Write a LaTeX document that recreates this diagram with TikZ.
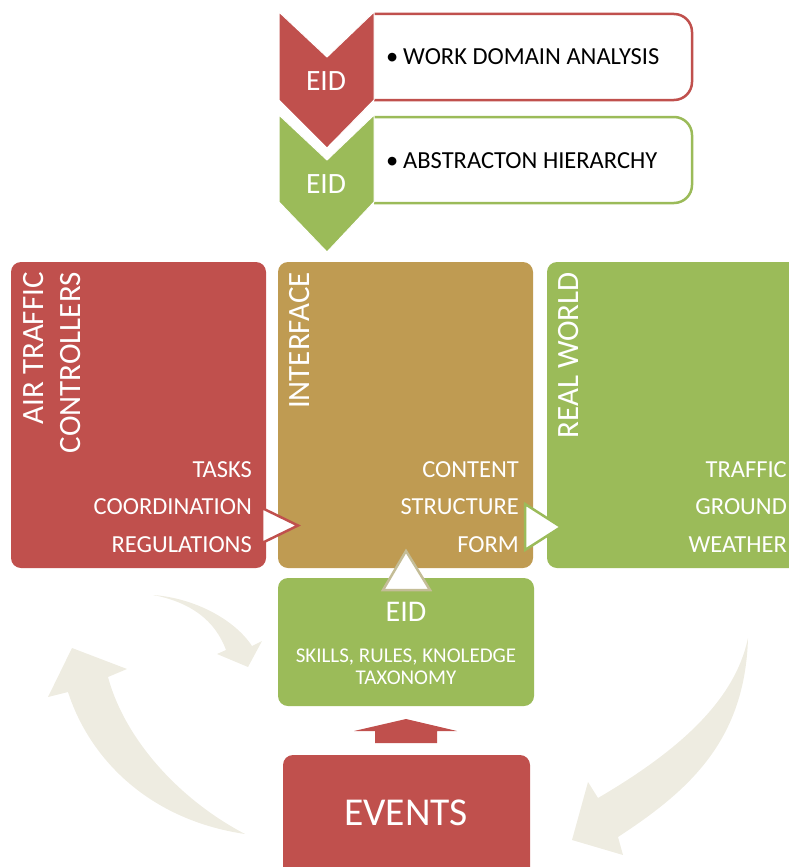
\documentclass[tikz,border=0pt]{standalone}
\usepackage{fontspec}
\setmainfont{Carlito}
\definecolor{cred}{RGB}{192,80,77}
\definecolor{cgreen}{RGB}{155,187,89}
\definecolor{ctan}{RGB}{191,155,82}
\definecolor{clight}{RGB}{238,236,225}
\definecolor{cgrey}{RGB}{196,189,151}
\tikzset{
 mainbox/.style={rectangle, rounded corners=10pt, inner sep=0pt, draw=none},
 outbox/.style={rounded corners=18pt, fill=white, line width=2.5pt},
 itemtxt/.style={anchor=base east, inner sep=0pt, text=white, font=\fontsize{24.5}{28}\selectfont},
 titletxt/.style={anchor=north east, rotate=90, inner sep=0pt, text=white, align=right, font=\fontsize{31}{37}\selectfont},
 toptxt/.style={anchor=base west, inner sep=0pt, text=black, font=\fontsize{24.5}{28}\selectfont},
 chevtxt/.style={anchor=base, inner sep=0pt, text=white, font=\fontsize{29.5}{30}\selectfont},
 eidtxt/.style={anchor=base, inner sep=0pt, text=white, font=\fontsize{21}{24}\selectfont},
 ptr/.style={fill=white, line width=2.5pt, line join=miter},
 swoosh/.style={fill=clight, draw=none},
}
\begin{document}
\begin{tikzpicture}[x=1pt,y=-1pt]
\useasboundingbox (0,0) rectangle (789,867);
% curved arrows
\fill[swoosh] (153,595) .. controls (195,598) and (235,620) .. (252,646) -- (262,641) -- (248,667) -- (217,654) -- (226,650) .. controls (215,620) and (190,602) .. (153,595) -- cycle;
\fill[swoosh] (245,834) .. controls (150,820) and (90,760) .. (68,692) -- (48,697) -- (72,648) -- (127,669) -- (108,677) .. controls (125,740) and (180,800) .. (245,834) -- cycle;
\fill[swoosh] (748,638) .. controls (745,740) and (690,790) .. (618,837) -- (623,855) -- (572,840) -- (588,782) -- (598,798) .. controls (680,750) and (735,700) .. (748,638) -- cycle;
% top outlined boxes
\filldraw[outbox, draw=cred] (374,14) -- (692,14) -- (692,100) -- (374,100);
\filldraw[outbox, draw=cgreen] (374,117) -- (692,117) -- (692,203) -- (374,203);
% chevrons
\filldraw[fill=cgreen, draw=white, line width=1pt] (279,115) -- (327,160) -- (374,115) -- (374,202) -- (327,252) -- (279,202) -- cycle;
\filldraw[fill=cred, draw=white, line width=1pt] (279,12) -- (327,57) -- (374,12) -- (374,100) -- (327,148) -- (279,100) -- cycle;
\node[chevtxt] (eid1) at (326,90) {EID};
\node[chevtxt] (eid2) at (326,193) {EID};
\node[toptxt] (t1) at (386,64) {\makebox[17pt][l]{•}WORK DOMAIN ANALYSIS};
\node[toptxt] (t2) at (386,168) {\makebox[17pt][l]{•}ABSTRACTON HIERARCHY};
% main boxes
\node[mainbox, fill=cred, minimum width=255pt, minimum height=306pt] (atc) at (138.5,415) {};
\node[mainbox, fill=ctan, minimum width=255pt, minimum height=306pt] (ifc) at (405.5,415) {};
\node[mainbox, fill=cgreen, minimum width=263pt, minimum height=306pt] (rw) at (678.5,415) {};
\node[titletxt] (atct) at (23,272) {AIR TRAFFIC\\CONTROLLERS};
\node[titletxt] (ifct) at (289,272) {INTERFACE};
\node[titletxt] (rwt) at (558,272) {REAL WORLD};
\node[itemtxt] (a1) at (252,477) {TASKS};
\node[itemtxt] (a2) at (252,514) {COORDINATION};
\node[itemtxt] (a3) at (252,552) {REGULATIONS};
\node[itemtxt] (i1) at (519,477) {CONTENT};
\node[itemtxt] (i2) at (519,514) {STRUCTURE};
\node[itemtxt] (i3) at (519,552) {FORM};
\node[itemtxt] (r1) at (787,477) {TRAFFIC};
\node[itemtxt] (r2) at (787,514) {GROUND};
\node[itemtxt] (r3) at (787,552) {WEATHER};
% EID box
\node[mainbox, fill=cgreen, minimum width=256pt, minimum height=128pt] (eidb) at (406,642) {};
\node[eidtxt, font=\fontsize{30}{32}\selectfont] (eidt) at (406,621) {EID};
\node[eidtxt] (srk) at (406,662) {SKILLS, RULES, KNOLEDGE};
\node[eidtxt] (tax) at (406,684) {TAXONOMY};
% events box
\node[mainbox, fill=cred, minimum width=247pt, minimum height=125pt] (ev) at (406.5,817.5) {};
\node[eidtxt, font=\fontsize{39.5}{42}\selectfont] (evt) at (406,825) {EVENTS};
% triangles
\filldraw[ptr, draw=cred] (262,508) -- (298,525.5) -- (262,543) -- cycle;
\filldraw[ptr, draw=cgreen] (525,504) -- (561,527) -- (525,550) -- cycle;
\filldraw[ptr, draw=cgrey] (383,590) -- (406,551) -- (430,590) -- cycle;
% red up arrow
\fill[cred] (406,719) -- (457,731) -- (437,731) -- (437,743) -- (375,743) -- (375,731) -- (354,731) -- cycle;
\end{tikzpicture}
\end{document}
